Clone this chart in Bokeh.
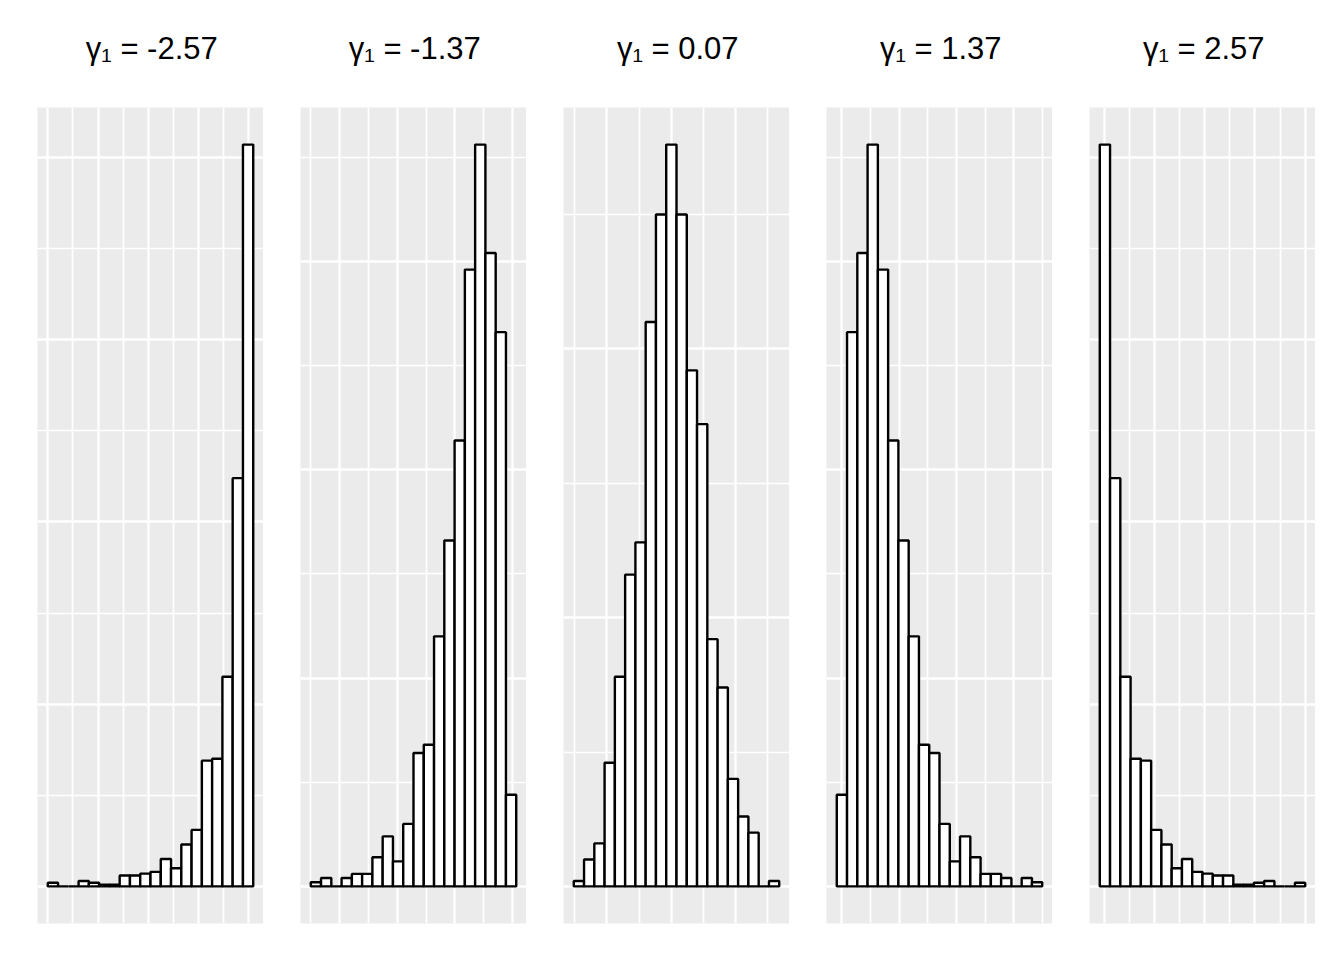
from bokeh.plotting import figure
from bokeh.layouts import row, column
from bokeh.models import Grid, FixedTicker, Range1d, ColumnDataSource
from bokeh.core.properties import value
from bokeh.embed import file_html
from bokeh.resources import INLINE
import numpy as np

# ---------------- data (histogram counts, 20 bins, n = 1000 each) ----------------
titles = ["γ₁ = -2.57", "γ₁ = -1.37", "γ₁ = 0.07", "γ₁ = 1.37", "γ₁ = 2.57"]

counts_neg257 = [2, 0, 0, 3, 2, 1, 1, 6, 6, 7, 8, 15, 10, 23, 31, 69, 70, 115, 224, 407]
counts_neg137 = [1, 2, 0, 2, 3, 3, 7, 12, 6, 15, 32, 34, 60, 83, 107, 148, 178, 152, 133, 22]
counts_pos007 = [1, 5, 8, 23, 39, 58, 64, 105, 125, 138, 125, 96, 86, 46, 37, 20, 13, 10, 0, 1]
counts_pos137 = [22, 133, 152, 178, 148, 107, 83, 60, 34, 32, 15, 6, 12, 7, 3, 3, 2, 0, 2, 1]
counts_pos257 = [407, 224, 115, 70, 69, 31, 23, 10, 15, 8, 7, 6, 6, 1, 1, 2, 3, 0, 0, 2]

all_counts = [counts_neg257, counts_neg137, counts_pos007, counts_pos137, counts_pos257]

# y-axis grid breaks (counts): major / minor
y_major = [[0, 100, 200, 300, 400], [0, 50, 100, 150], [0, 50, 100], [0, 50, 100, 150], [0, 100, 200, 300, 400]]
y_minor = [[50, 150, 250, 350], [25, 75, 125, 175], [25, 75, 125], [25, 75, 125, 175], [50, 150, 250, 350]]

# x-axis grid breaks (in bin units of each panel)
x_major = [[0, 4.89, 9.78, 14.66, 19.55],
           [2.81, 8.42, 14.03, 19.64],
           [3.23, 9.49, 15.75],
           [0.5, 6.08, 11.66, 17.24],
           [0.45, 5.34, 10.22, 15.11, 20.0]]
x_minor = [[2.44, 7.33, 12.22, 17.11],
           [0.0, 5.61, 11.22, 16.84],
           [0.1, 6.36, 12.62, 18.88],
           [3.29, 8.87, 14.45, 20.03],
           [2.89, 7.78, 12.67, 17.56]]

# ---------------- layout / style ----------------
BG = "#EBEBEB"
FIG_W = 263
LEFT = 37
FRAME_W = 226
FRAME_H = 816
TOP_H = 107
BOTTOM = 37
TITLE_CENTER_FROM_TOP = 48
TITLE_X = 133

cols = []
for i, counts in enumerate(all_counts):
    # title strip (text only)
    tf = figure(width=FIG_W, height=TOP_H, x_range=Range1d(0, FIG_W), y_range=Range1d(0, TOP_H),
                x_axis_type=None, y_axis_type=None, output_backend="svg", toolbar_location=None,
                min_border=0, background_fill_color="white", border_fill_color="white",
                outline_line_color=None)
    tf.text(x=[TITLE_X], y=[TOP_H - TITLE_CENTER_FROM_TOP], text=[titles[i]],
            text_align="center", text_baseline="middle", text_color="black",
            text_font=value("Liberation Sans"), text_font_size=value("31px"))

    n = len(counts)
    edges = np.arange(n + 1)
    m = max(counts)
    src = ColumnDataSource(dict(left=edges[:-1], right=edges[1:], top=counts, bottom=[0] * n))
    p = figure(width=FIG_W, height=FRAME_H + BOTTOM,
               x_range=Range1d(-0.05 * n, 1.05 * n),
               y_range=Range1d(-0.05 * m, 1.05 * m),
               x_axis_type=None, y_axis_type=None,
               output_backend="svg", toolbar_location=None,
               min_border_left=LEFT, min_border_right=FIG_W - LEFT - FRAME_W,
               min_border_top=0, min_border_bottom=BOTTOM,
               background_fill_color=BG, border_fill_color="white",
               outline_line_color=None)

    xg = Grid(dimension=0, ticker=FixedTicker(ticks=x_major[i], minor_ticks=x_minor[i]),
              grid_line_color="white", grid_line_width=2.3,
              minor_grid_line_color="white", minor_grid_line_width=1.7)
    yg = Grid(dimension=1, ticker=FixedTicker(ticks=y_major[i], minor_ticks=y_minor[i]),
              grid_line_color="white", grid_line_width=2.3,
              minor_grid_line_color="white", minor_grid_line_width=1.7)
    p.add_layout(xg)
    p.add_layout(yg)

    p.quad(left="left", right="right", top="top", bottom="bottom", source=src,
           fill_color="white", line_color="black", line_width=2.4)
    cols.append(column(tf, p, spacing=0))

layout = row(*cols, spacing=0)
open("out.html", "w").write(file_html(layout, INLINE))
